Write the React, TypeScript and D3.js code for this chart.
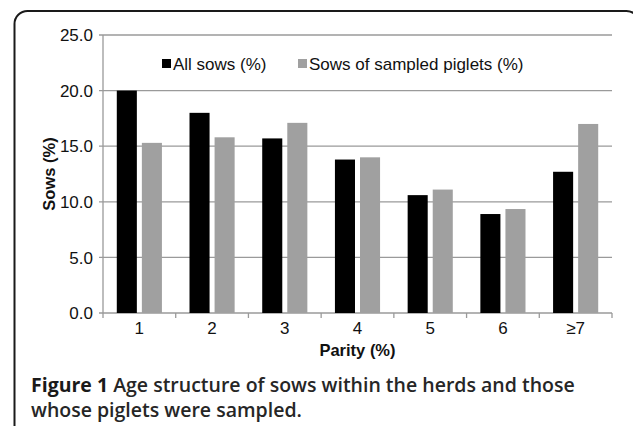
import * as d3 from "d3";

const parities = ["1", "2", "3", "4", "5", "6", "≥7"];
const seriesNames = ["All sows (%)", "Sows of sampled piglets (%)"];
const allSows = [20.0, 18.0, 15.7, 13.8, 10.6, 8.9, 12.7];
const sampledSows = [15.3, 15.8, 17.1, 14.0, 11.1, 9.35, 17.0];
const yTicks = [0, 5, 10, 15, 20, 25];
const colors = ["#000000", "#a0a0a0"];

const W = 633;
const H = 426;
const plot = { left: 103, right: 612, top: 35, bottom: 313 };
const axisFont = "'Liberation Sans', Arial, sans-serif";

export default function App() {
  const x = d3
    .scaleBand<string>()
    .domain(parities)
    .range([plot.left, plot.right])
    .padding(0);
  const xInner = d3
    .scaleBand<number>()
    .domain([0, 1])
    .range([0, x.bandwidth()])
    .paddingInner(0.2)
    .paddingOuter(0.55);
  const y = d3.scaleLinear().domain([0, 25]).range([plot.bottom, plot.top]);
  const fmt = d3.format(".1f");
  const values = [allSows, sampledSows];

  // tick marks sit on the category boundaries
  const bounds = parities.map((p) => x(p)!).concat([plot.right]);

  return (
    <svg
      width={W}
      height={H}
      style={{ position: "absolute", left: 0, top: 0, background: "#fff" }}
    >
      <rect
        x={14.5}
        y={11}
        width={625}
        height={460}
        rx={13}
        fill="none"
        stroke="#1a1a1a"
        strokeWidth={2}
      />

      {/* gridlines */}
      {yTicks.map((t) => (
        <line
          key={t}
          x1={plot.left - 4}
          x2={plot.right}
          y1={y(t)}
          y2={y(t)}
          stroke="#9a9a9a"
          strokeWidth={1.3}
        />
      ))}
      <line
        x1={plot.left}
        x2={plot.left}
        y1={plot.top}
        y2={plot.bottom}
        stroke="#9a9a9a"
        strokeWidth={1.3}
      />
      {bounds.map((b, i) => (
        <line
          key={i}
          x1={b}
          x2={b}
          y1={plot.bottom}
          y2={plot.bottom + 5}
          stroke="#9a9a9a"
          strokeWidth={1.3}
        />
      ))}

      {/* bars */}
      {values.map((vals, s) =>
        vals.map((v, i) => (
          <rect
            key={`${s}-${i}`}
            x={x(parities[i])! + xInner(s)!}
            y={y(v)}
            width={xInner.bandwidth()}
            height={y(0) - y(v)}
            fill={colors[s]}
          />
        ))
      )}

      {/* y tick labels */}
      {yTicks.map((t) => (
        <text
          key={t}
          x={93}
          y={y(t)}
          dy="0.36em"
          textAnchor="end"
          fontFamily={axisFont}
          fontSize={17}
          fill="#111"
        >
          {fmt(t)}
        </text>
      ))}

      {/* x tick labels */}
      {parities.map((p) => (
        <text
          key={p}
          x={x(p)! + x.bandwidth() / 2}
          y={334}
          textAnchor="middle"
          fontFamily={axisFont}
          fontSize={17}
          fill="#111"
        >
          {p}
        </text>
      ))}

      <text
        x={(plot.left + plot.right) / 2}
        y={356}
        textAnchor="middle"
        fontFamily={axisFont}
        fontSize={16.5}
        fontWeight="bold"
        fill="#111"
      >
        Parity (%)
      </text>
      <text
        transform={`translate(55, ${(plot.top + plot.bottom) / 2}) rotate(-90)`}
        textAnchor="middle"
        fontFamily={axisFont}
        fontSize={16.5}
        fontWeight="bold"
        fill="#111"
      >
        Sows (%)
      </text>

      {/* legend */}
      {[162, 298].map((lx, s) => (
        <g key={s}>
          <rect x={lx} y={59} width={9} height={9} fill={colors[s]} />
          <text
            x={lx + 11}
            y={63.5}
            dy="0.36em"
            fontFamily={axisFont}
            fontSize={17}
            fill="#111"
          >
            {seriesNames[s]}
          </text>
        </g>
      ))}

      {/* caption */}
      <text
        x={31}
        y={392}
        fontFamily="'Open Sans', sans-serif"
        fontSize={19.5}
        fontWeight={600}
        fill="#262626"
      >
        <tspan fontWeight={700} fill="#1a1a1a">
          Figure 1
        </tspan>{" "}
        Age structure of sows within the herds and those
      </text>
      <text
        x={31}
        y={417}
        fontFamily="'Open Sans', sans-serif"
        fontSize={19.5}
        fontWeight={600}
        fill="#262626"
      >
        whose piglets were sampled.
      </text>
    </svg>
  );
}
